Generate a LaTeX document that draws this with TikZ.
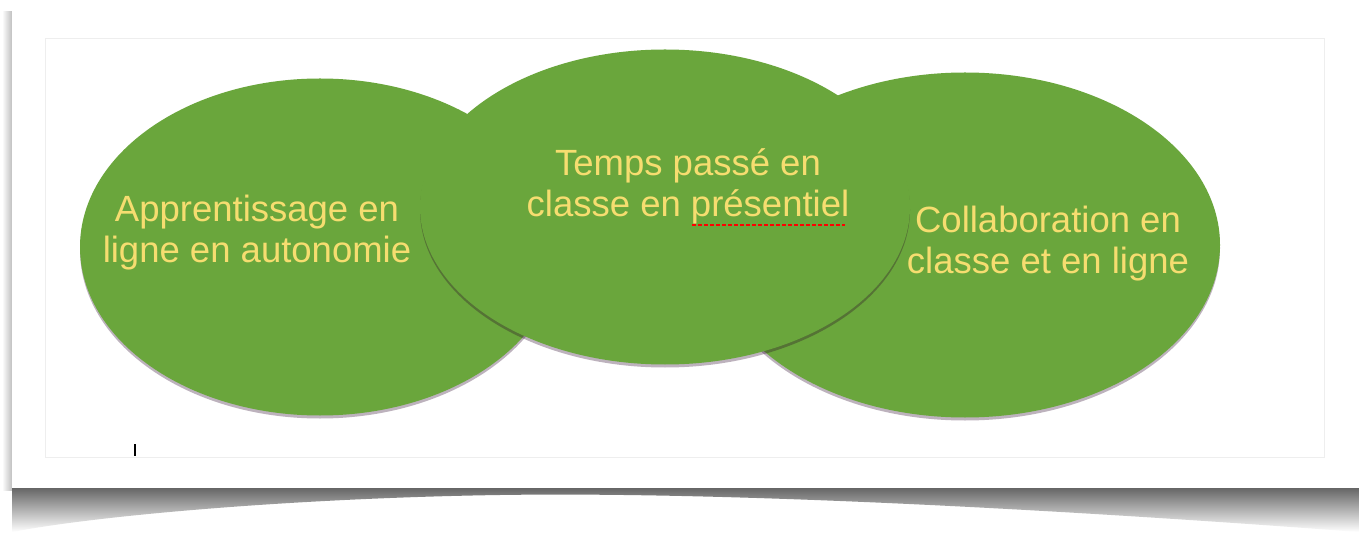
\documentclass[tikz,border=0pt]{standalone}
\usepackage{fontspec}
\setmainfont{Liberation Sans}
\usetikzlibrary{shapes.geometric,shadows}
\definecolor{leaf}{RGB}{106,166,60}
\definecolor{txt}{RGB}{246,221,112}
\definecolor{frame}{RGB}{238,238,238}
\tikzset{
  blob/.style={ellipse, fill=leaf, draw=none, inner sep=0pt,
    drop shadow={shadow xshift=0pt, shadow yshift=-3pt, fill=black!70!violet, opacity=0.3}},
  lbl/.style={text=txt, font=\fontsize{36.5}{41}\selectfont, align=center, inner sep=0pt},
}
\begin{document}
\begin{tikzpicture}[x=1pt,y=-1pt]
\useasboundingbox (0,0) rectangle (1359,534);
\fill[white] (0,0) rectangle (1359,534);
% left page shadow
\shade[left color=white, right color=black!25] (2,12) rectangle (12,490);
% bottom shadow
\shade[top color=black!60, bottom color=white]
  (12,488) -- (1359,488) -- (1359,532) .. controls (1000,505) and (700,492) .. (500,495)
  .. controls (300,498) and (100,515) .. (12,532) -- cycle;
% page
\fill[white] (12,6) rectangle (1359,488);
\draw[frame, line width=0.8pt] (45,38) rectangle (1324,457);
% ellipses
\node[blob, minimum width=480pt, minimum height=337pt] (left) at (320,247) {};
\node[blob, minimum width=510pt, minimum height=345pt] (right) at (965,245) {};
\node[blob, minimum width=490pt, minimum height=315pt] (mid) at (665,207) {};
% labels
\node[lbl] (tl) at (257,233) {Apprentissage en\\ligne en autonomie};
\node[lbl] (tm) at (688,186) {Temps passé en\\classe en présentiel};
\node[lbl] (tr) at (1048,244) {Collaboration en\\classe et en ligne};
% spell-check underline
\coordinate (u1) at (692,225);
\coordinate (u2) at (845,225);
\draw[red, line width=2.6pt, dash pattern=on 4pt off 2pt] (u1) -- (u2);
% text cursor
\coordinate (c1) at (135,444);
\coordinate (c2) at (135,456);
\draw[black, line width=1.5pt] (c1) -- (c2);
\end{tikzpicture}
\end{document}
